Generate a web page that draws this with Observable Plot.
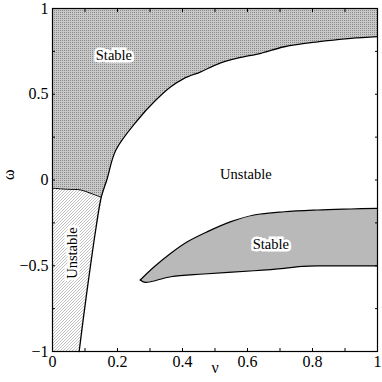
<!DOCTYPE html>
<html><head><meta charset="utf-8">
<script src="https://cdn.jsdelivr.net/npm/d3@7"></script>
<script src="https://cdn.jsdelivr.net/npm/@observablehq/plot@0.6"></script>
<style>body{margin:0;background:#fff;} #chart svg{display:block;}</style>
</head><body>
<svg width="0" height="0" style="position:absolute">
<defs>
<pattern id="stable" patternUnits="userSpaceOnUse" width="2" height="2">
<rect width="2" height="2" fill="#c9c9c9"/>
<rect width="1" height="1" fill="#8a8a8a"/>
</pattern>
<pattern id="hatch" patternUnits="userSpaceOnUse" width="3" height="3">
<rect width="3" height="3" fill="#ffffff"/>
<path d="M-1,1 L1,-1 M0,3 L3,0 M2,4 L4,2" stroke="#a8a8a8" stroke-width="0.7"/>
</pattern>
</defs></svg>
<div id="chart"></div>
<script>
// Main stability boundary (bottom to top), nu vs omega
const mainNu    = [0.082, 0.097, 0.118, 0.133, 0.150, 0.167, 0.195, 0.262, 0.318, 0.364, 0.405, 0.456, 0.508, 0.569, 0.641, 0.713, 0.815, 0.918, 1.000];
const mainOmega = [-1.000, -0.776, -0.484, -0.290, -0.100, 0.000, 0.175, 0.350, 0.466, 0.544, 0.593, 0.631, 0.676, 0.710, 0.739, 0.777, 0.806, 0.826, 0.836];
const junctionIndex = 4;
// Separating curve from nu=0 to the junction
const sepNu    = [0.000, 0.046, 0.087, 0.118, 0.150];
const sepOmega = [-0.048, -0.054, -0.058, -0.078, -0.100];
// Lower stable island
const islandUpperNu    = [0.270, 0.313, 0.364, 0.415, 0.477, 0.549, 0.620, 0.713, 0.815, 0.918, 1.000];
const islandUpperOmega = [-0.583, -0.506, -0.427, -0.360, -0.301, -0.243, -0.204, -0.185, -0.175, -0.169, -0.165];
const islandLowerNu    = [0.270, 0.285, 0.364, 0.466, 0.620, 0.713, 0.770, 0.815, 1.000];
const islandLowerOmega = [-0.583, -0.597, -0.564, -0.548, -0.529, -0.515, -0.504, -0.501, -0.501];
// Region labels
const hLabelText  = ["Stable", "Unstable", "Stable"];
const hLabelNu    = [0.189, 0.595, 0.672];
const hLabelOmega = [0.729, 0.035, -0.375];
const vLabelText  = ["Unstable"];
const vLabelNu    = [0.061];
const vLabelOmega = [-0.426];
// Ticks
const xTicks = [0, 0.1, 0.2, 0.3, 0.4, 0.5, 0.6, 0.7, 0.8, 0.9, 1];
const xTickLabelValues = [0, 0.2, 0.4, 0.6, 0.8, 1];
const xTickLabels = ["0", "0.2", "0.4", "0.6", "0.8", "1"];
const yTicks = [-1, -0.75, -0.5, -0.25, 0, 0.25, 0.5, 0.75, 1];
const yTickLabelValues = [-1, -0.5, 0, 0.5, 1];
const yTickLabels = ["\u22121", "\u22120.5", "0", "0.5", "1"];

const mainPts = mainNu.map((x, i) => ({x, y: mainOmega[i]}));
const sepPts = sepNu.map((x, i) => ({x, y: sepOmega[i]}));
const upperBoundary = sepPts.concat(mainPts.slice(junctionIndex + 1));
const lowerMain = mainPts.slice(0, junctionIndex + 1);
const lowerLeftBoundary = lowerMain.concat(sepPts.slice(0, -1).reverse());
const islandUpper = islandUpperNu.map((x, i) => ({x, y: islandUpperOmega[i]}));
const islandLower = islandLowerNu.map((x, i) => ({x, y: islandLowerOmega[i]}));
const island = islandUpper.concat(islandLower.slice().reverse());
const hLabels = hLabelText.map((t, i) => ({t, x: hLabelNu[i], y: hLabelOmega[i]}));
const vLabels = vLabelText.map((t, i) => ({t, x: vLabelNu[i], y: vLabelOmega[i]}));

const font = "'Liberation Serif', 'DejaVu Serif', serif";
const chart = Plot.plot({
  width: 382, height: 382,
  marginTop: 8, marginBottom: 31, marginLeft: 52, marginRight: 5,
  style: {fontFamily: font, background: "#fff", color: "#000"},
  x: {domain: [0, 1]},
  y: {domain: [-1, 1]},
  marks: [
    // Upper stable region
    Plot.areaY(upperBoundary, {x: "x", y1: "y", y2: 1, fill: "url(#stable)", curve: "catmull-rom"}),
    // Lower-left unstable region
    Plot.areaX(lowerLeftBoundary, {y: "y", x1: 0, x2: "x", fill: "url(#hatch)", curve: "catmull-rom"}),
    // Island fill and outline
    Plot.line(island, {x: "x", y: "y", fill: "url(#stable)", stroke: "none", curve: "linear"}),
    Plot.line(islandUpper, {x: "x", y: "y", stroke: "#000", strokeWidth: 1.2, curve: "catmull-rom"}),
    Plot.line(islandLower, {x: "x", y: "y", stroke: "#000", strokeWidth: 1.2, curve: "catmull-rom"}),
    // Boundaries
    Plot.line(mainPts, {x: "x", y: "y", stroke: "#000", strokeWidth: 1.3, curve: "catmull-rom"}),
    Plot.line(sepPts, {x: "x", y: "y", stroke: "#000", strokeWidth: 1, curve: "catmull-rom"}),
    // Labels
    Plot.text(hLabels, {x: "x", y: "y", text: "t", fontSize: 14.5, fill: "#000", stroke: "#fff", strokeWidth: 5, strokeLinejoin: "miter"}),
    Plot.text(vLabels, {x: "x", y: "y", text: "t", rotate: -90, fontSize: 14.5, fill: "#000", stroke: "#fff", strokeWidth: 5, strokeLinejoin: "miter"}),
    Plot.frame({stroke: "#000", strokeWidth: 1.2}),
    // Axes: labels
    Plot.axisX({ticks: xTickLabelValues, tickSize: 0, tickPadding: 4, fontSize: 16, label: null,
      tickFormat: d => xTickLabels[xTickLabelValues.indexOf(d)]}),
    Plot.axisY({ticks: yTickLabelValues, tickSize: 0, tickPadding: 4, fontSize: 16, label: null,
      tickFormat: d => yTickLabels[yTickLabelValues.indexOf(d)]}),
    // Inward ticks on all sides
    Plot.axisX({anchor: "bottom", ticks: xTicks, tickSize: -3, tickFormat: () => "", label: null}),
    Plot.axisX({anchor: "top", ticks: xTicks, tickSize: -3, tickFormat: () => "", label: null}),
    Plot.axisY({anchor: "left", ticks: yTicks, tickSize: -3, tickFormat: () => "", label: null}),
    Plot.axisY({anchor: "right", ticks: yTicks, tickSize: -3, tickFormat: () => "", label: null}),
    // Axis titles
    Plot.text(["\u03bd"], {frameAnchor: "bottom", dy: 21, fontSize: 16, fill: "#000"}),
    Plot.text(["\u03c9"], {frameAnchor: "left", dx: -44, rotate: -90, fontSize: 16, fill: "#000"})
  ]
});
document.getElementById("chart").appendChild(chart);
</script>
</body></html>
